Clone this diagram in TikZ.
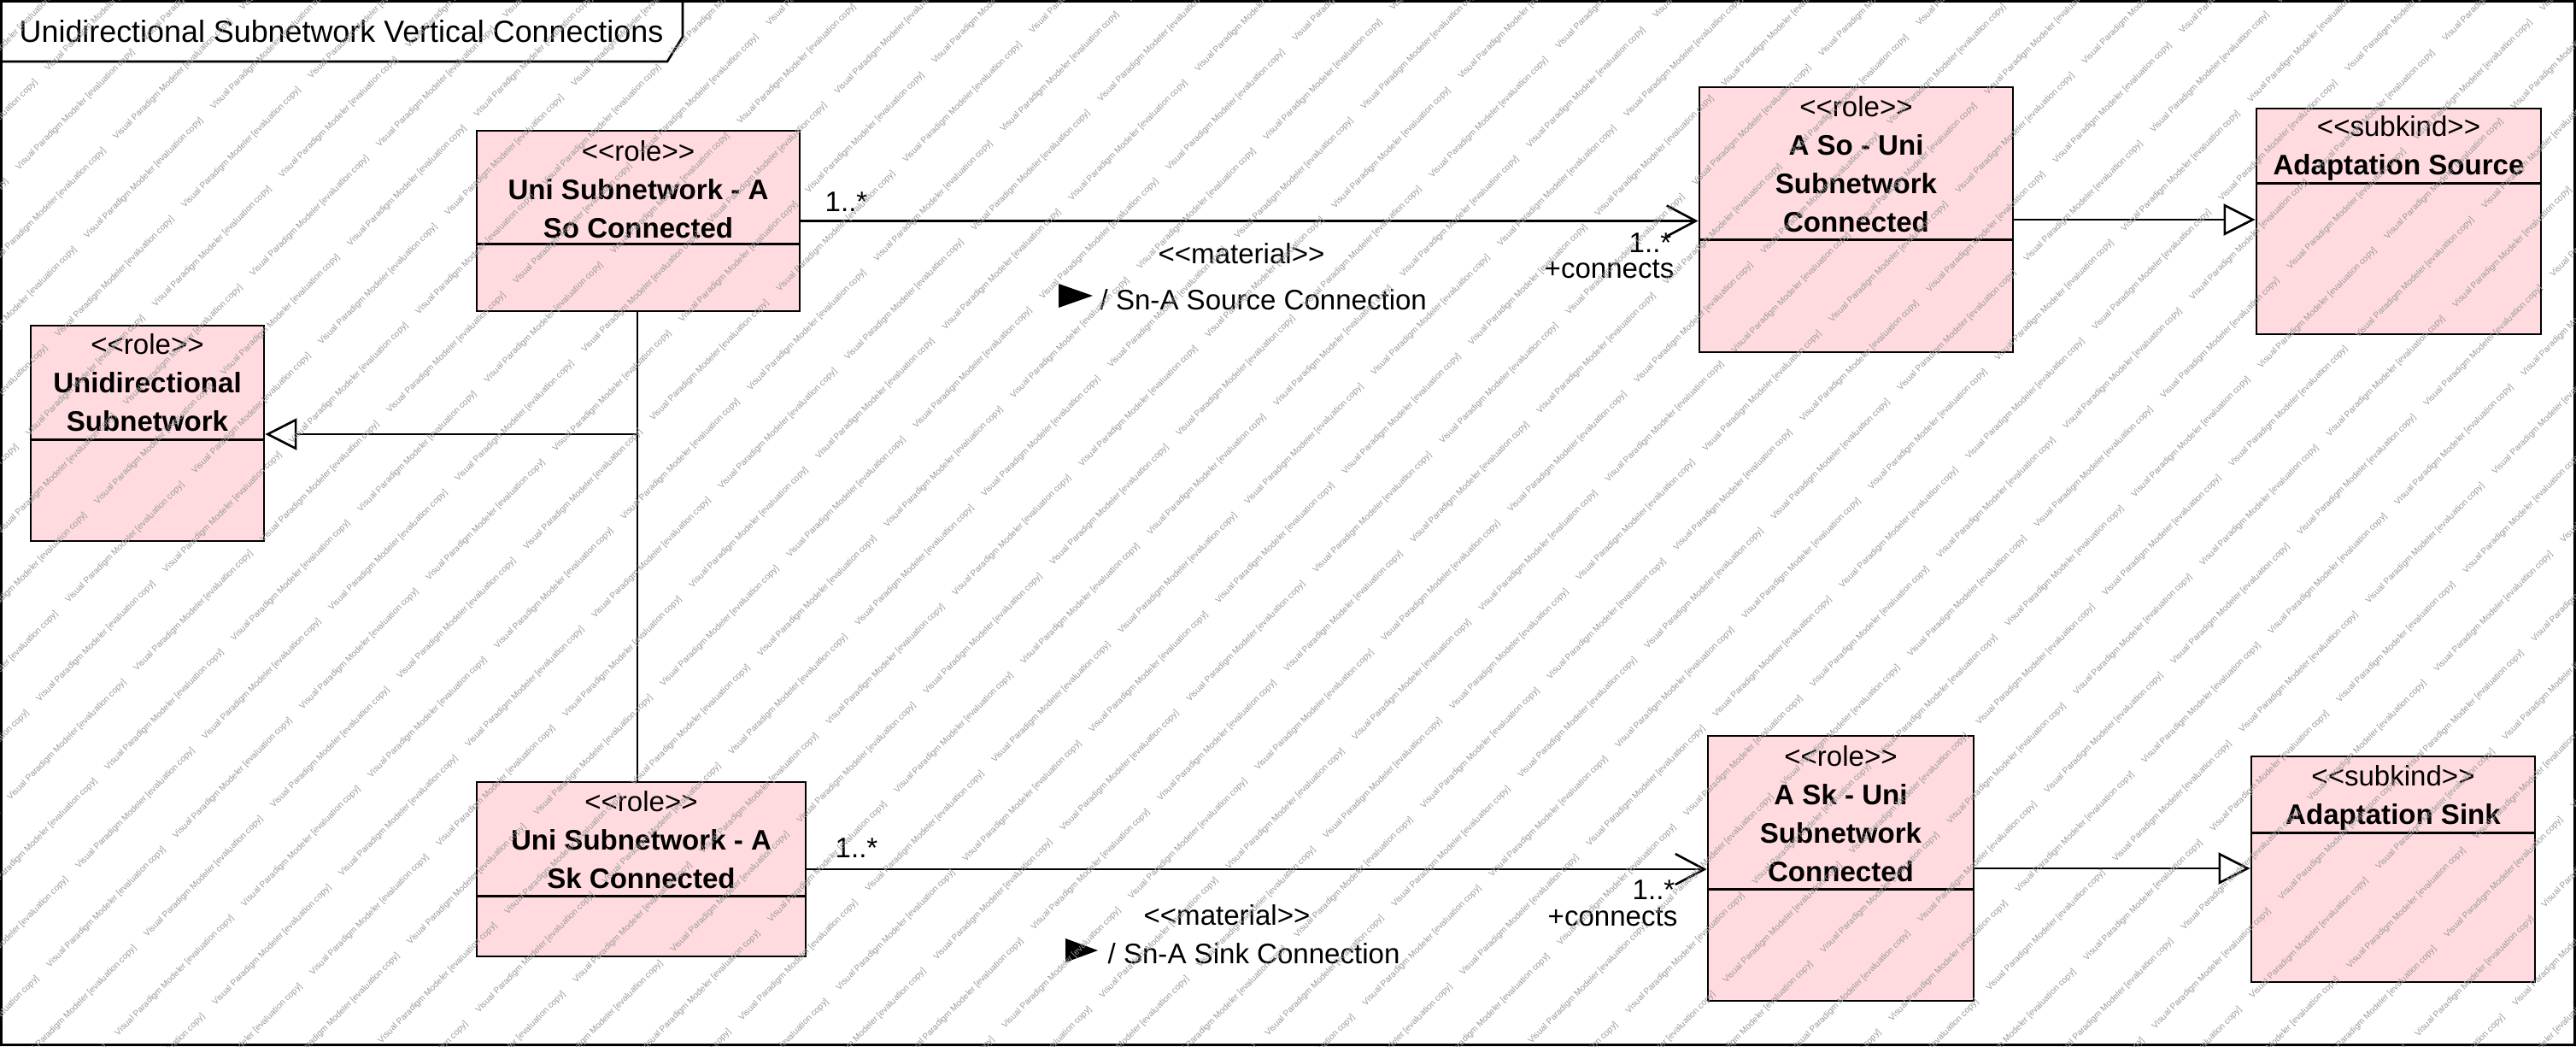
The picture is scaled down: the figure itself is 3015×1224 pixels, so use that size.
\documentclass[tikz,border=0pt]{standalone}
\usepackage{fontspec}
\setmainfont{Liberation Sans}[Ligatures=TeXOff]
\usetikzlibrary{calc}
\usetikzlibrary{positioning}
\usetikzlibrary{arrows.meta}

\definecolor{rolepink}{RGB}{255,219,223}
\tikzset{
  classbox/.style={draw, line width=0.75pt, fill=rolepink, inner sep=0pt},
  classtext/.style={align=center, inner sep=0pt, font=\fontsize{9.4}{12.8}\selectfont},
  lbl/.style={inner sep=0pt, font=\fontsize{9.4}{11.3}\selectfont},
  assoc/.style={line width=0.75pt, -{Straight Barb[length=0.34cm, width=0.36cm, line width=0.75pt]}},
  gen/.style={line width=0.75pt, -{Triangle[open, length=0.37cm, width=0.37cm, fill=white]}},
  wmark/.style={anchor=base west, rotate=45.5, inner sep=0pt, text=black!40, font=\fontsize{2.9}{3.5}\selectfont}
}

\begin{document}
\begin{tikzpicture}[x=0.01cm, y=-0.01cm]
      \useasboundingbox (0,0) rectangle (3015,1224);
      \draw[line width=0.75pt] (1.5,1.5) rectangle (3013.5,1222.5);
      \draw[line width=0.75pt] (1.5,72) -- (781,72) -- (799,43) -- (799,1.5);
      \node[anchor=base west, inner sep=0pt, font=\fontsize{10.2}{12}\selectfont] (title) at (22,50) {Unidirectional Subnetwork Vertical Connections};

      % classes
      \node[classbox, minimum width=3.78cm, minimum height=2.11cm] (soconn) at (747,258.5) {};
      \node[classbox, minimum width=2.73cm, minimum height=2.52cm] (unisub) at (172.5,507) {};
      \node[classbox, minimum width=3.67cm, minimum height=3.10cm] (asouni) at (2172.5,257) {};
      \node[classbox, minimum width=3.33cm, minimum height=2.64cm] (adsrc) at (2807.5,259) {};
      \node[classbox, minimum width=3.85cm, minimum height=2.04cm] (skconn) at (750.5,1017) {};
      \node[classbox, minimum width=3.11cm, minimum height=3.10cm] (askuni) at (2154.5,1016) {};
      \node[classbox, minimum width=3.32cm, minimum height=2.64cm] (adsink) at (2801,1017) {};

      \node[classtext, below=0.124cm of soconn.north] (soconn-t) {<<role>>\\\textbf{Uni Subnetwork - A}\\\textbf{So Connected}};
      \node[classtext, below=0.104cm of unisub.north] (unisub-t) {<<role>>\\\textbf{Unidirectional}\\\textbf{Subnetwork}};
      \node[classtext, below=0.114cm of asouni.north] (asouni-t) {<<role>>\\\textbf{A So - Uni}\\\textbf{Subnetwork}\\\textbf{Connected}};
      \node[classtext, below=0.094cm of adsrc.north] (adsrc-t) {<<subkind>>\\\textbf{Adaptation Source}};
      \node[classtext, below=0.114cm of skconn.north] (skconn-t) {<<role>>\\\textbf{Uni Subnetwork - A}\\\textbf{Sk Connected}};
      \node[classtext, below=0.124cm of askuni.north] (askuni-t) {<<role>>\\\textbf{A Sk - Uni}\\\textbf{Subnetwork}\\\textbf{Connected}};
      \node[classtext, below=0.114cm of adsink.north] (adsink-t) {<<subkind>>\\\textbf{Adaptation Sink}};

      \draw[line width=0.75pt] ($(soconn.north west)+(0,134)$) -- ($(soconn.north east)+(0,134)$);
      \draw[line width=0.75pt] ($(unisub.north west)+(0,135)$) -- ($(unisub.north east)+(0,135)$);
      \draw[line width=0.75pt] ($(asouni.north west)+(0,180)$) -- ($(asouni.north east)+(0,180)$);
      \draw[line width=0.75pt] ($(adsrc.north west)+(0,89)$) -- ($(adsrc.north east)+(0,89)$);
      \draw[line width=0.75pt] ($(skconn.north west)+(0,135)$) -- ($(skconn.north east)+(0,135)$);
      \draw[line width=0.75pt] ($(askuni.north west)+(0,181)$) -- ($(askuni.north east)+(0,181)$);
      \draw[line width=0.75pt] ($(adsink.north west)+(0,91)$) -- ($(adsink.north east)+(0,91)$);

      % connectors
      \draw[assoc] (soconn.east) -- (asouni.west |- soconn.east);
      \draw[gen] (asouni.east) -- (adsrc.west |- asouni.east);
      \draw[assoc] (skconn.east) -- (askuni.west |- skconn.east);
      \draw[gen] (askuni.east) -- (adsink.west |- askuni.east);
      \coordinate (genjoin) at (746,508);
      \draw[line width=0.75pt] (soconn.south -| genjoin) -- (genjoin);
      \draw[line width=0.75pt] (skconn.north -| genjoin) -- (genjoin);
      \draw[gen] (genjoin) -- (genjoin -| unisub.east);

      \node[lbl, anchor=base west] (somult) at (965,247) {1..*};
      \node[lbl, anchor=base east] (asomult) at (1957,295) {1..*};
      \node[lbl, anchor=base east] (asorole) at (1960,325) {+connects};
      \node[lbl, anchor=base] (sostereo) at (1453,308) {<<material>>};
      \node[lbl, anchor=base west] (soname) at (1287,362) {/ Sn-A Source Connection};
      \fill ($(soname.base west)+(-48,-30)$) -- ++(40,14) -- ++(-40,14) -- cycle;

      \node[lbl, anchor=base west] (skmult) at (977,1003) {1..*};
      \node[lbl, anchor=base east] (askmult) at (1961,1052) {1..*};
      \node[lbl, anchor=base east] (askrole) at (1964,1083) {+connects};
      \node[lbl, anchor=base] (skstereo) at (1436,1082) {<<material>>};
      \node[lbl, anchor=base west] (skname) at (1296,1127) {/ Sn-A Sink Connection};
      \fill ($(skname.base west)+(-49,-29)$) -- ++(38,14) -- ++(-38,14) -- cycle;

      % watermark
      \begin{scope}
        \clip (0,0) rectangle (3015,1224);
        \foreach \i in {-23,...,22}{
          \foreach \j in {-15,...,17}{
            \pgfmathsetmacro\wx{1312+80*\i+114*\j}
            \pgfmathsetmacro\wy{742+80*\i-35.5*\j}
            \pgfmathtruncatemacro\wok{(\wx>-160)&&(\wx<3020)&&(\wy>-5)&&(\wy<1370)}
            \ifnum\wok=1
              \node[wmark] (wm\i-\j) at (\wx,\wy) {Visual Paradigm Modeler [evaluation copy]};
            \fi
          }
        }
      \end{scope}
    \end{tikzpicture}
\end{document}
